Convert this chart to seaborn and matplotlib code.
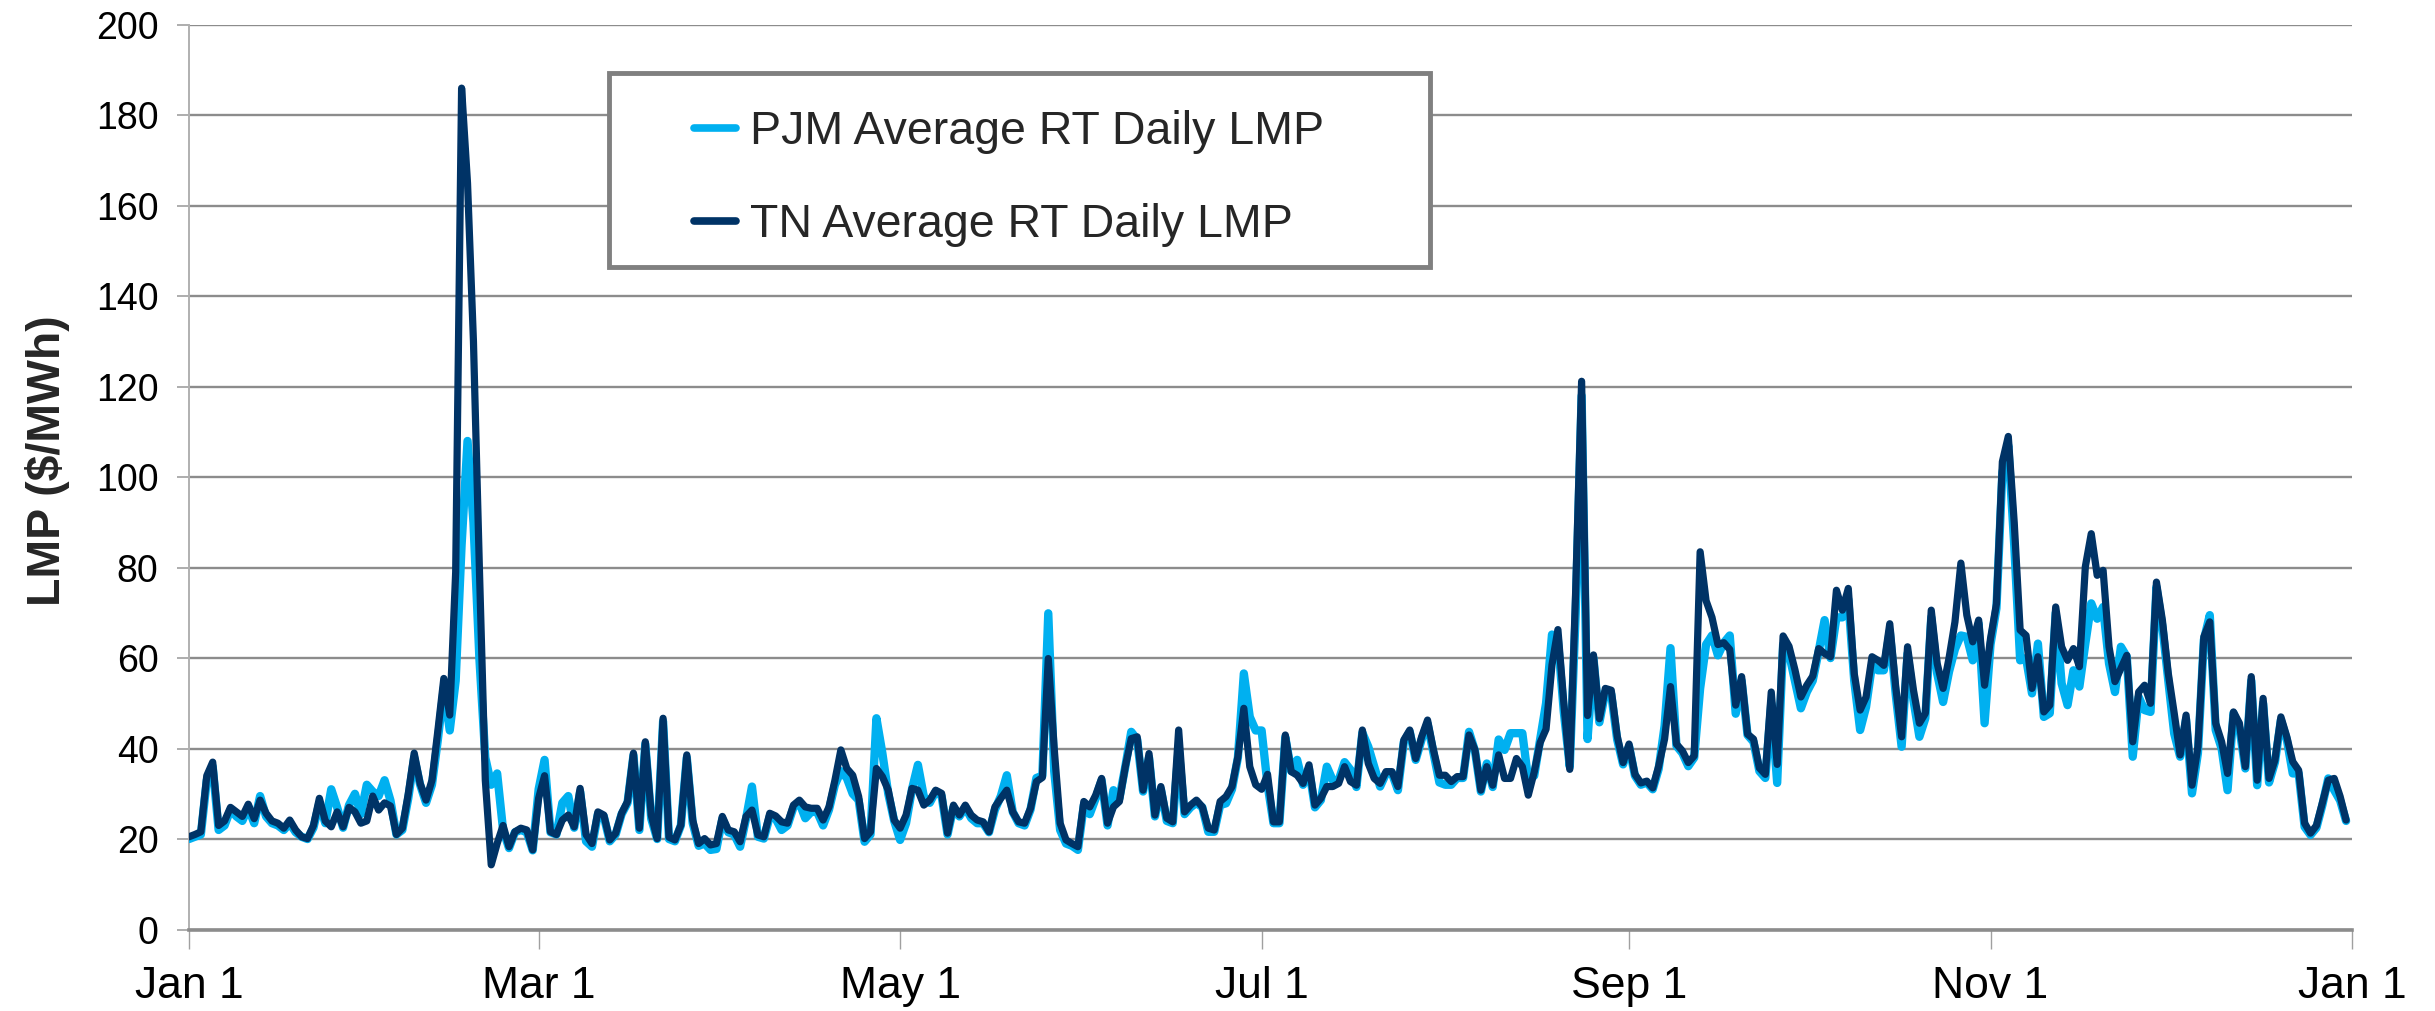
import numpy as np
import pandas as pd
import matplotlib
matplotlib.use("Agg")
import matplotlib.pyplot as plt
import seaborn as sns
from matplotlib.patches import Rectangle
from matplotlib.lines import Line2D

# ---------------- data ----------------
start_date = "2015-01-01"
tick_dates = ["2015-01-01", "2015-03-01", "2015-05-01", "2015-07-01",
              "2015-09-01", "2015-11-01", "2016-01-01"]
tick_labels = ["Jan 1", "Mar 1", "May 1", "Jul 1", "Sep 1", "Nov 1", "Jan 1"]
y_ticks = [0, 20, 40, 60, 80, 100, 120, 140, 160, 180, 200]
series_names = ["PJM Average RT Daily LMP", "TN Average RT Daily LMP"]

pjm_lmp = [
    20, 20.5, 21, 33, 36, 22, 23, 26.5, 25, 24, 27, 23.5, 29.5, 25, 23.5, 23, 22, 23.5, 21.5, 20.5,
    20, 22.5, 28, 23.5, 31, 27, 22.5, 27.5, 30, 25.5, 32, 30.5, 29.5, 33, 28.5, 21, 22, 29, 38, 32,
    28, 32, 42, 53.5, 44, 55, 85, 108, 90, 60, 38, 32, 34.5, 22, 18, 21.5, 22, 21.5, 17.5, 31,
    37.5, 21.5, 21, 28, 29.5, 22.5, 30.5, 19.5, 18.3, 25.5, 25, 19.5, 21, 25.5, 28, 38.5, 22, 41, 24.5, 20,
    46, 20, 19.5, 23, 38, 23.5, 18.5, 19, 17.6, 17.8, 24.5, 21.5, 21, 18.3, 24.5, 31.6, 20.5, 20.1, 25, 24.5,
    22, 23, 27, 28, 24.6, 26, 26, 23, 26.5, 32, 35, 33.5, 30, 28.6, 19.4, 21, 46.7, 39, 30, 24,
    19.8, 23.5, 31, 36.4, 29.4, 28, 30.5, 29.5, 21, 27, 25, 27, 24.6, 23.5, 23.5, 21.5, 26.5, 29.5, 34.1, 26,
    23.5, 23, 26.5, 33.5, 34, 69.9, 35, 22, 19, 18.5, 17.6, 27.5, 25.5, 29, 33, 23, 30.8, 29, 36, 43.7,
    42, 30.5, 38, 25, 31, 24, 23.5, 40, 25.5, 27, 28, 27, 21.6, 21.6, 27.5, 27.9, 31, 38, 56.6, 47,
    44, 44, 32, 23.5, 23.5, 42.5, 35, 37.5, 32, 35.5, 27, 28.6, 36, 33, 33, 37, 35.3, 31.5, 43.5, 40.4,
    36, 31.6, 34.5, 34.5, 30.8, 41.5, 43.7, 37.5, 42, 45.5, 39, 32.5, 32, 32, 33.5, 33.5, 43.7, 39.5, 30.5, 36.7,
    31.5, 42, 39.7, 43.4, 43.4, 43.4, 33, 34, 42, 50, 65.2, 64, 48, 36, 70, 118, 42.1, 60, 45.8, 52.5,
    52, 42, 36.5, 40.5, 34, 32, 32.5, 31, 35.5, 45, 62.2, 40.6, 39, 36.1, 38, 53.3, 63, 65, 60.6, 63.4,
    65, 47.7, 55, 43, 41.5, 35, 33.5, 50, 32.4, 63, 61, 55, 48.9, 52.5, 55, 61.5, 68.4, 60, 69, 69,
    73, 55, 44.1, 49.2, 58.5, 57.3, 57.3, 66, 52, 40.4, 61, 50.7, 42.6, 46.7, 69, 56.6, 50.3, 57, 62, 65,
    64.7, 59.5, 67.6, 45.6, 63, 71, 101, 107, 85, 59.5, 60, 52.2, 63.2, 47, 47.8, 70, 54.4, 49.6, 57.3, 53.7,
    63.2, 72.1, 68.7, 71.3, 58.8, 52.5, 62.5, 60.3, 38.2, 51.4, 48.5, 48.1, 75.7, 67, 55, 43.3, 38.2, 46.5, 30.1, 39,
    64, 69.5, 44.1, 40, 30.8, 47.8, 44.5, 35.6, 55, 31.9, 50, 32.5, 37, 46.3, 42, 34.5, 34.5, 22.7, 20.9, 22.5,
    27.5, 33.4, 30.8, 28.5, 24,
]

tn_lmp = [
    20.5, 21, 21.6, 34, 37, 23, 24, 27, 26, 25, 27.7, 24.5, 28.6, 25.7, 24, 23.5, 22.4, 24.2, 22, 20.5,
    20.1, 23, 29, 24, 22.7, 26, 22.7, 27, 26, 23.5, 24, 29.5, 26.4, 28, 27.3, 21, 22.4, 30, 39, 32.3,
    28.6, 33, 44, 55.5, 47.4, 79, 186, 165, 130, 80, 33, 14.3, 19, 23, 18.3, 21.6, 22.4, 22, 17.6, 29,
    34, 21.6, 21, 24.2, 25.3, 22.7, 31.2, 21, 19, 26, 25.3, 19.8, 21.3, 25.7, 28.3, 39, 22.4, 41.5, 25.3, 20.1,
    46.7, 20.4, 19.8, 23.1, 38.6, 24.2, 19, 20.1, 18.7, 19, 25, 22, 21.6, 19.4, 25, 26.4, 20.9, 20.5, 25.7, 25.1,
    23.8, 23.5, 27.5, 28.6, 27.1, 26.8, 26.8, 24.2, 27.1, 33, 39.7, 35.6, 34.1, 29.4, 20.1, 21.6, 35.6, 33.8, 30.8, 24.2,
    22.4, 25.3, 31.2, 30.8, 27.5, 28.6, 30.8, 30.1, 21.3, 27.5, 25.3, 27.5, 25.3, 24.2, 23.8, 21.6, 27.1, 29, 30.8, 26,
    23.8, 23.5, 26.8, 32.7, 33.6, 59.9, 40, 23.5, 19.8, 19, 18.3, 28.3, 27.1, 29.7, 33.4, 23.5, 27.1, 28.3, 36, 42.2,
    42.6, 30.8, 38.9, 25.3, 31.6, 24.6, 23.8, 44.1, 26, 27.5, 28.6, 27.1, 22.4, 22, 28.3, 29.4, 31.6, 38.2, 48.9, 36,
    32, 31, 34.3, 23.8, 23.8, 43, 34.9, 34.1, 32.3, 36.4, 27.5, 29, 31.6, 31.6, 32.3, 36, 32.7, 31.9, 44.1, 36.7,
    33.4, 32.3, 34.9, 34.9, 31.6, 41.9, 44.1, 37.8, 42.6, 46.3, 39.7, 34.1, 34.1, 32.7, 33.8, 33.8, 43, 39.7, 30.8, 36,
    31.9, 38.6, 33.4, 33.4, 37.8, 36, 29.7, 34.8, 41.3, 44.3, 58.5, 66.3, 50, 35.4, 75, 121.2, 47.3, 60.7, 46.6, 53.3,
    52.9, 42.8, 36.9, 41, 34.3, 32.4, 32.8, 31.3, 36.1, 42.1, 53.7, 41, 39.5, 36.9, 38.4, 83.5, 72.7, 69, 63, 63.4,
    61.9, 49.6, 55.9, 43.2, 42.1, 35.7, 34.3, 52.5, 36.5, 64.9, 62.6, 57.4, 51.4, 54, 56, 62.1, 61, 60.3, 75, 70.6,
    75.4, 56.6, 48.5, 51.4, 60.3, 59.5, 58.4, 67.6, 53.7, 42.6, 62.5, 52.9, 45.6, 47.8, 70.6, 58.8, 53.3, 60, 68, 81,
    69.5, 63.6, 68.4, 54, 64.3, 72, 103.4, 109, 90, 66.2, 65, 53.3, 60.3, 48.1, 49.6, 71.3, 62.5, 59.5, 62.1, 58.1,
    80.2, 87.5, 78.3, 79.4, 62.5, 54.8, 57.7, 60.6, 41.5, 52.5, 54, 50, 76.8, 68.4, 56.6, 47.8, 38.6, 47.4, 31.9, 40.4,
    64.7, 68, 45.6, 41.5, 34.5, 48.1, 45.6, 36, 55.9, 33, 51.1, 33.4, 37.5, 47, 42.6, 37.1, 35.2, 23.5, 21.3, 23,
    28, 33, 33.4, 29.4, 24.2,
]

# ---------------- style ----------------
sns.set_theme(style="white")
plt.rcParams["font.family"] = ["Liberation Sans", "DejaVu Sans"]

PJM_COLOR = "#00B0F0"
TN_COLOR = "#003366"
GRID_COLOR = "#8C8C8C"

dates = pd.date_range(start_date, periods=len(tn_lmp), freq="D")
df = pd.DataFrame({"date": dates, "PJM": pjm_lmp, "TN": tn_lmp})

fig = plt.figure(figsize=(24.35, 10.11), dpi=100)
ax = fig.add_axes([189 / 2435, 1 - 929.5 / 1011, (2352 - 189) / 2435, (929.5 - 24.8) / 1011])

sns.lineplot(data=df, x="date", y="PJM", ax=ax, color=PJM_COLOR, linewidth=6.0,
             estimator=None, solid_joinstyle="round", solid_capstyle="round", zorder=3)
sns.lineplot(data=df, x="date", y="TN", ax=ax, color=TN_COLOR, linewidth=5.2,
             estimator=None, solid_joinstyle="round", solid_capstyle="round", zorder=4)

ax.set_xlim(pd.Timestamp(tick_dates[0]), pd.Timestamp(tick_dates[-1]))
ax.set_ylim(y_ticks[0], y_ticks[-1])
ax.set_xticks([pd.Timestamp(d) for d in tick_dates])
ax.set_xticklabels(tick_labels)
ax.set_yticks(y_ticks)
ax.set_yticklabels([str(v) for v in y_ticks])

ax.set_xlabel("")
ax.set_ylabel("LMP ($/MWh)", fontsize=33.5, fontweight="bold")
ax.yaxis.set_label_coords(-0.0548, 0.518)

ax.yaxis.grid(True, color=GRID_COLOR, linewidth=1.7, zorder=0)
ax.xaxis.grid(False)
ax.set_axisbelow(True)

for side in ["top", "right"]:
    ax.spines[side].set_visible(False)
ax.spines["left"].set_color("#B0B0B0")
ax.spines["left"].set_linewidth(1.4)
ax.spines["bottom"].set_color("#8C8C8C")
ax.spines["bottom"].set_linewidth(2.6)

ax.tick_params(axis="y", which="major", direction="out", length=9, width=1.2,
               color="#A0A0A0", labelsize=27, pad=13, left=True, labelcolor="black")
ax.tick_params(axis="x", which="major", direction="out", length=14, width=1.0,
               color="#A0A0A0", labelsize=32, pad=12, bottom=True, labelcolor="black")

# legend: frame drawn separately so the box can have wide side margins
frame = Rectangle((609 / 2435, 1 - 267 / 1011), 821 / 2435, 194 / 1011,
                  transform=fig.transFigure, facecolor="white", edgecolor="#808080",
                  linewidth=3.5, zorder=1)
fig.patches.append(frame)

handles = [Line2D([], [], color=PJM_COLOR, linewidth=5.5, solid_capstyle="round"),
           Line2D([], [], color=TN_COLOR, linewidth=5.5, solid_capstyle="round")]
leg = fig.legend(handles, series_names, loc="upper left",
                 bbox_to_anchor=(694 / 2435, 1 - 110 / 1011), frameon=False,
                 fontsize=33.5, handlelength=0.9, handletextpad=0.3, labelspacing=1.05,
                 borderpad=0, borderaxespad=0)
leg.set_zorder(5)

fig.savefig("out.png", dpi=100)
